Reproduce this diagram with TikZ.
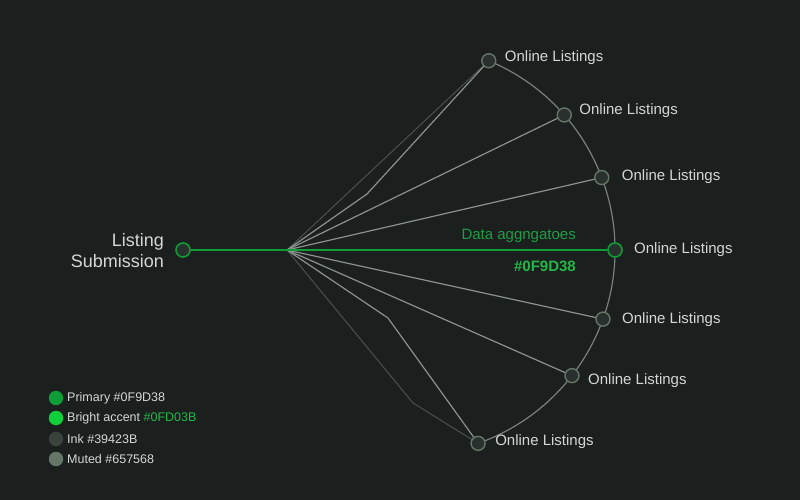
\documentclass[tikz,border=0pt]{standalone}
\usepackage{fontspec}
\setmainfont{Liberation Sans}
\usetikzlibrary{calc}
\definecolor{bg}{HTML}{1B1F1E}
\definecolor{primary}{HTML}{0F9D38}
\definecolor{bright}{HTML}{0FD03B}
\definecolor{ink}{HTML}{39423B}
\definecolor{muted}{HTML}{657568}
\definecolor{spoke}{HTML}{8A928C}
\definecolor{faint}{HTML}{4A524D}
\definecolor{nodefill}{HTML}{2A302D}
\definecolor{txt}{HTML}{D4D8D4}
\definecolor{lbl}{HTML}{1E9E45}
\definecolor{hexg}{HTML}{22B84A}
\tikzset{
  outnode/.style={circle, minimum size=14pt, inner sep=0pt, draw=muted, line width=1.4pt, fill=nodefill},
  greennode/.style={circle, minimum size=14pt, inner sep=0pt, draw=primary, line width=1.6pt, fill=nodefill},
  spokeline/.style={draw=spoke, line width=1.2pt},
  faintline/.style={draw=faint, line width=1pt},
  arcline/.style={draw=spoke!85!bg, line width=1.2pt},
  mainline/.style={draw=primary, line width=1.8pt},
  outlabel/.style={anchor=west, text=txt, font=\fontsize{15}{18}\selectfont, inner sep=0pt},
  legdot/.style={circle, minimum size=14.5pt, inner sep=0pt},
  legtext/.style={anchor=west, text=txt, font=\fontsize{12.5}{15}\selectfont, inner sep=0pt}
}
\begin{document}
\begin{tikzpicture}[x=1pt,y=-1pt]
\fill[bg] (0,0) rectangle (800,500);
\useasboundingbox (0,0) rectangle (800,500);

% coordinates
\coordinate (hub) at (287,250);
\coordinate (k1) at (367,194);
\coordinate (k2) at (388,318);
\coordinate (k3) at (413,403);
\coordinate (cc) at (410,250);

% node positions on the arc
\coordinate (p1) at ($(cc)+(-67.4:205)$);
\coordinate (p2) at ($(cc)+(-41.2:205)$);
\coordinate (p3) at ($(cc)+(-20.7:205)$);
\coordinate (p4) at ($(cc)+(0:205)$);
\coordinate (p5) at ($(cc)+(19.7:205)$);
\coordinate (p6) at ($(cc)+(37.8:205)$);
\coordinate (p7) at ($(cc)+(70.6:205)$);
\coordinate (pl) at (183,250);

% arc
\draw[arcline] (p1) arc[start angle=-67.4, end angle=70.6, radius=205];

% spokes
\draw[faintline] (hub) -- (p1);
\draw[faintline] (hub) -- (k3) -- (p7);
\draw[spokeline] (hub) -- (k1) -- (p1);
\draw[spokeline] (hub) -- (p2);
\draw[spokeline] (hub) -- (p3);
\draw[spokeline] (hub) -- (p5);
\draw[spokeline] (hub) -- (p6);
\draw[spokeline] (hub) -- (k2) -- (p7);

% nodes
\node[greennode] (src) at (pl) {};
\node[outnode] (o1) at (p1) {};
\node[outnode] (o2) at (p2) {};
\node[outnode] (o3) at (p3) {};
\node[greennode] (o4) at (p4) {};
\node[outnode] (o5) at (p5) {};
\node[outnode] (o6) at (p6) {};
\node[outnode] (o7) at (p7) {};

\draw[mainline] (src) -- (hub);
\draw[mainline] (hub) -- (o4);

% labels
\node[outlabel] at ($(o1)+(16,-3)$) {Online Listings};
\node[outlabel] at ($(o2)+(15,-4)$) {Online Listings};
\node[outlabel] at ($(o3)+(20,-1)$) {Online Listings};
\node[outlabel] at ($(o4)+(19,0)$) {Online Listings};
\node[outlabel] at ($(o5)+(19,1)$) {Online Listings};
\node[outlabel] at ($(o6)+(16,5)$) {Online Listings};
\node[outlabel] at ($(o7)+(17,-2)$) {Online Listings};

\node[anchor=east, align=right, text=txt, font=\fontsize{18}{21}\selectfont, inner sep=0pt] (srclbl) at (164,251) {Listing\\Submission};

\node[anchor=east, text=lbl, font=\fontsize{15}{18}\selectfont, inner sep=0pt] (dalbl) at (576,236) {Data aggngatoes};
\node[anchor=east, text=hexg, font=\bfseries\fontsize{15}{18}\selectfont, inner sep=0pt] (hexlbl) at (576,266) {\#0F9D38};

% legend
\node[legdot, fill=primary] (l1) at (56,398) {};
\node[legdot, fill=bright] (l2) at (56,418) {};
\node[legdot, fill=ink] (l3) at (56,439) {};
\node[legdot, fill=muted] (l4) at (56,459) {};
\node[legtext] at (67,398) {Primary \#0F9D38};
\node[legtext] at (67,418) {Bright accent \textcolor{hexg}{\#0FD03B}};
\node[legtext] at (67,439) {Ink \#39423B};
\node[legtext] at (67,459) {Muted \#657568};
\end{tikzpicture}
\end{document}
